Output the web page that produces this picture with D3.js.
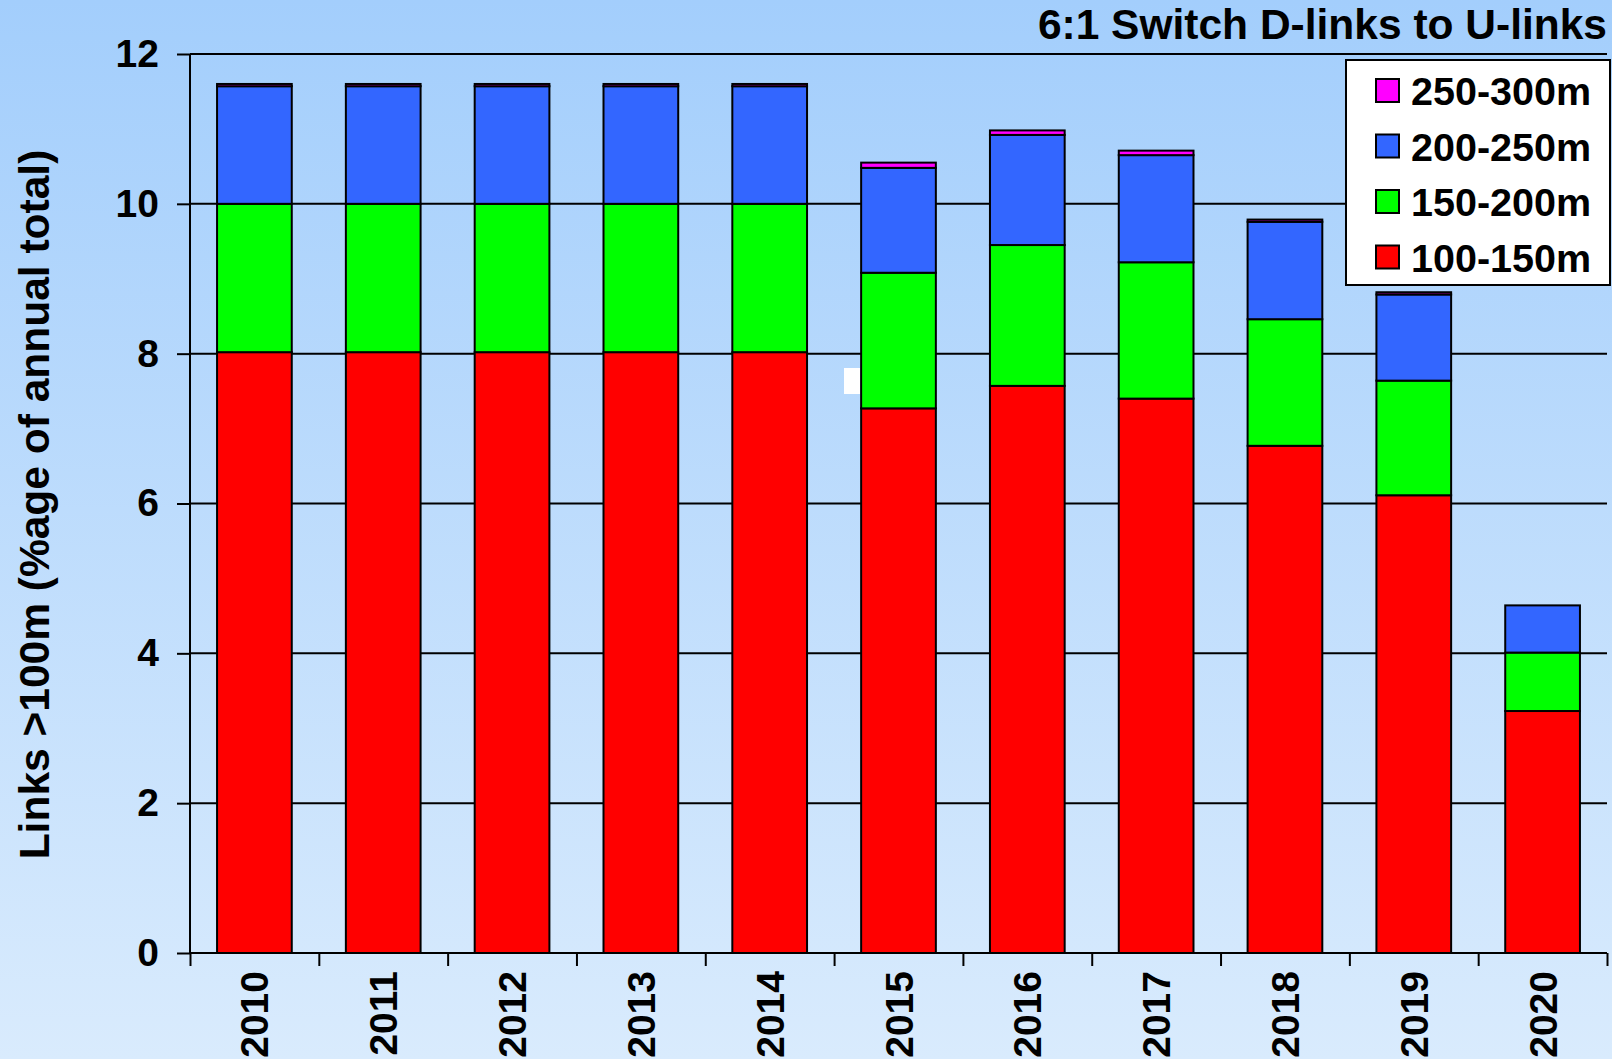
<!DOCTYPE html>
<html>
<head>
<meta charset="utf-8">
<script src="https://cdn.jsdelivr.net/npm/d3@7"></script>
<style>
  body { margin: 0; padding: 0; overflow: hidden; }
  svg { display: block; font-family: "Liberation Sans", Arial, sans-serif; font-weight: bold; }
</style>
</head>
<body>
<svg id="chart" width="1612" height="1059"></svg>
<script>
// chart data
var years = ["2010", "2011", "2012", "2013", "2014", "2015", "2016", "2017", "2018", "2019", "2020"];
var r100_150 = [8.02, 8.02, 8.02, 8.02, 8.02, 7.27, 7.57, 7.40, 6.77, 6.11, 3.23];
var r150_200 = [1.98, 1.98, 1.98, 1.98, 1.98, 1.81, 1.88, 1.82, 1.69, 1.53, 0.78];
var r200_250 = [1.57, 1.57, 1.57, 1.57, 1.57, 1.40, 1.47, 1.43, 1.30, 1.15, 0.63];
var r250_300 = [0.03, 0.03, 0.03, 0.03, 0.03, 0.07, 0.06, 0.06, 0.03, 0.03, 0.00];
var seriesNames = ["100-150m", "150-200m", "200-250m", "250-300m"];
var seriesColors = ["#ff0000", "#00ff00", "#3366ff", "#ff00ff"];
var yTicks = [0, 2, 4, 6, 8, 10, 12];
var chartTitle = "6:1 Switch D-links to U-links";
var yTitle = "Links >100m (%age of annual total)";

var W = 1612, H = 1059;
var margin = {top: 54, right: 5, bottom: 106, left: 190};
var plotW = W - margin.left - margin.right,
    plotH = H - margin.top - margin.bottom;

var svg = d3.select("#chart");

// background gradient
var defs = svg.append("defs");
var grad = defs.append("linearGradient")
    .attr("id", "bg").attr("x1", 0).attr("y1", 0).attr("x2", 0).attr("y2", 1);
grad.append("stop").attr("offset", "0%").attr("stop-color", "#a3cefc");
grad.append("stop").attr("offset", "100%").attr("stop-color", "#d9ebfd");
svg.append("rect").attr("width", W).attr("height", H).attr("fill", "url(#bg)");

var g = svg.append("g").attr("transform", "translate(" + margin.left + "," + margin.top + ")");

var x = d3.scaleBand().domain(years).range([0, plotW]).paddingInner(0.42).paddingOuter(0.21);
var y = d3.scaleLinear().domain([0, 12]).range([plotH, 0]);

// gridlines
g.append("g")
    .selectAll("line")
    .data(yTicks.filter(function(d){ return d > 0; }))
    .enter().append("line")
    .attr("x1", 0).attr("x2", plotW)
    .attr("y1", function(d){ return y(d); })
    .attr("y2", function(d){ return y(d); })
    .attr("stroke", "#000").attr("stroke-width", 2);

// stacked bars
var table = years.map(function(yr, i){
    return {year: yr, "100-150m": r100_150[i], "150-200m": r150_200[i], "200-250m": r200_250[i], "250-300m": r250_300[i]};
});
var stacked = d3.stack().keys(seriesNames)(table);

g.append("g")
    .selectAll("g")
    .data(stacked)
    .enter().append("g")
    .attr("fill", function(d, i){ return seriesColors[i]; })
    .selectAll("rect")
    .data(function(d){ return d.filter(function(p){ return p[1] - p[0] > 0; }); })
    .enter().append("rect")
    .attr("x", function(d){ return x(d.data.year); })
    .attr("y", function(d){ return y(d[1]); })
    .attr("width", x.bandwidth())
    .attr("height", function(d){ return y(d[0]) - y(d[1]); })
    .attr("stroke", "#000").attr("stroke-width", 2);

// stray white mark in the original
g.append("rect")
    .attr("x", 654).attr("y", 314).attr("width", 16).attr("height", 26)
    .attr("fill", "#fff");

// y axis
var yAxis = g.append("g")
    .call(d3.axisLeft(y).tickValues(yTicks).tickSize(13).tickPadding(18).tickFormat(d3.format("d")));
yAxis.select(".domain").attr("stroke-width", 2).attr("d", "M0," + plotH + "V0");
yAxis.selectAll(".tick line").attr("stroke-width", 2);
yAxis.selectAll("text").attr("font-size", 39).attr("font-family", "Liberation Sans, Arial").attr("font-weight", "bold").attr("fill", "#000");

// x axis ticks at category boundaries
var xEdge = d3.scaleLinear().domain([0, years.length]).range([0, plotW]);
var xAxis = g.append("g")
    .attr("transform", "translate(0," + plotH + ")")
    .call(d3.axisBottom(xEdge).ticks(years.length).tickSize(13).tickFormat(""));
xAxis.select(".domain").attr("stroke-width", 2).attr("d", "M0,0H" + plotW);
xAxis.selectAll(".tick line").attr("stroke-width", 2);

// year labels
g.append("g")
    .selectAll("text")
    .data(years)
    .enter().append("text")
    .attr("transform", function(d){
        return "translate(" + (x(d) + x.bandwidth() / 2) + "," + (plotH + 18) + ") rotate(-90)";
    })
    .attr("text-anchor", "end")
    .attr("dy", "0.36em")
    .attr("font-size", 39)
    .text(function(d){ return d; });

// y title
svg.append("text")
    .attr("transform", "translate(34," + (margin.top + plotH / 2 + 1) + ") rotate(-90)")
    .attr("text-anchor", "middle")
    .attr("dy", "0.36em")
    .attr("font-size", 42.5)
    .text(yTitle);

// chart title
svg.append("text")
    .attr("x", 1607).attr("y", 39)
    .attr("text-anchor", "end")
    .attr("font-size", 42.5)
    .text(chartTitle);

// legend
var legend = svg.append("g").attr("transform", "translate(1346,60)");
legend.append("rect")
    .attr("width", 264).attr("height", 225)
    .attr("fill", "#fff").attr("stroke", "#000").attr("stroke-width", 2);
var order = [3, 2, 1, 0];
var item = legend.selectAll("g.item")
    .data(order)
    .enter().append("g")
    .attr("class", "item")
    .attr("transform", function(d, i){ return "translate(0," + (31 + i * 55.5) + ")"; });
item.append("rect")
    .attr("x", 30).attr("y", -12).attr("width", 23).attr("height", 23)
    .attr("fill", function(d){ return seriesColors[d]; })
    .attr("stroke", "#000").attr("stroke-width", 2);
item.append("text")
    .attr("x", 65).attr("dy", "0.36em")
    .attr("font-size", 39.5)
    .text(function(d){ return seriesNames[d]; });
</script>
</body>
</html>
